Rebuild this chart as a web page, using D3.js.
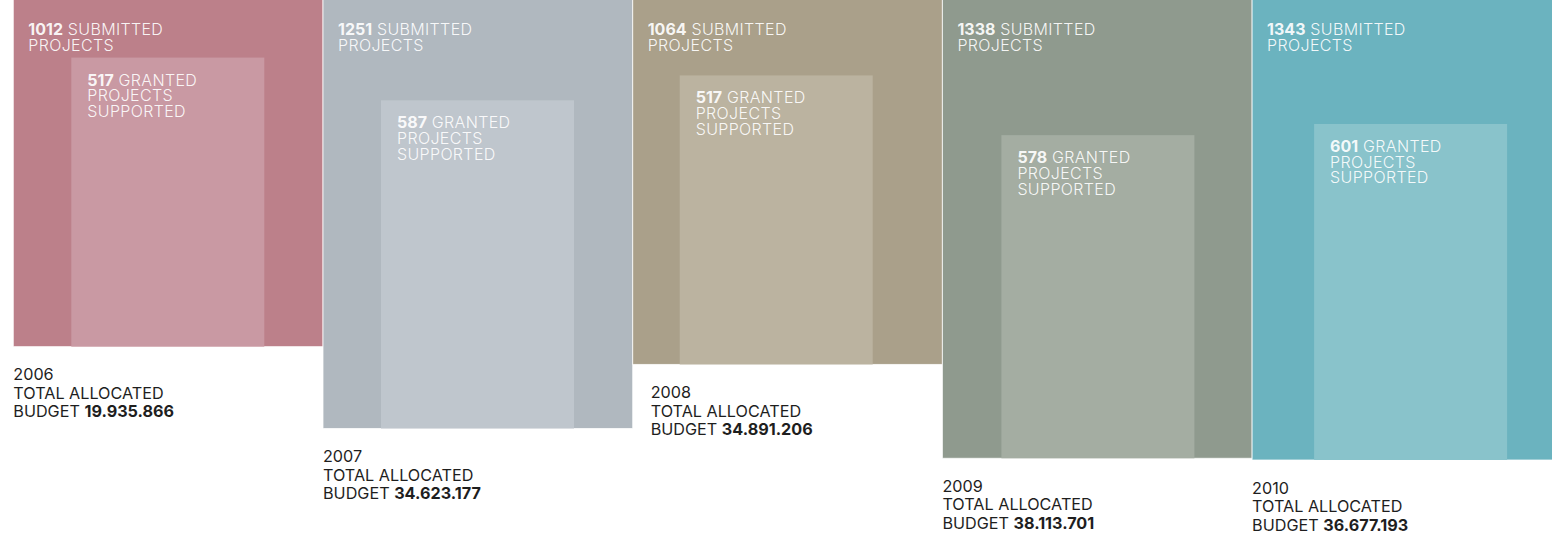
<!DOCTYPE html>
<html>
<head>
<meta charset="utf-8">
<script src="https://cdn.jsdelivr.net/npm/d3@7"></script>
<style>
  html, body { margin: 0; padding: 0; background: #fff; }
  svg { display: block; font-family: Inter, Roboto, "Noto Sans", sans-serif; }
</style>
</head>
<body>
<svg id="chart" width="1552" height="537"></svg>
<script>
// ---- data ----
const years = ["2006", "2007", "2008", "2009", "2010"];
const submitted = [1012, 1251, 1064, 1338, 1343];
const granted = [517, 587, 517, 578, 601];
const budgets = ["19.935.866", "34.623.177", "34.891.206", "38.113.701", "36.677.193"];

// ---- styling / layout (not data) ----
const outerColors = ["#bc808a", "#b0b8bf", "#aaa08a", "#8f9a8e", "#6bb3bf"];
const innerColors = ["#c999a3", "#bfc6cd", "#bbb3a0", "#a4ada2", "#89c3cb"];
const innerOffsets = [58, 58, 47, 59, 62];
const labelOffsets = [0, 0, 18, 0, 0];

const svg = d3.select("#chart");
const colStep = 309.7;
const x = d3.scaleBand().domain(years).range([13.3, 13.3 + colStep * years.length]).padding(0);
const hOuter = d3.scaleLinear().domain([0, 1343]).range([0, 460]);
const hInner = d3.scaleLinear().domain([0, 601]).range([0, 336]);
const innerW = 193;

const rows = years.map((y, i) => ({
  year: y, sub: submitted[i], gr: granted[i], budget: budgets[i],
  oc: outerColors[i], ic: innerColors[i], io: innerOffsets[i], lo: labelOffsets[i]
}));

const g = svg.selectAll("g.col").data(rows).join("g").attr("class", "col")
  .attr("transform", d => `translate(${x(d.year)},0)`);

g.append("rect")
  .attr("x", 0).attr("y", -2)
  .attr("width", x.bandwidth())
  .attr("height", d => hOuter(d.sub) + 2)
  .attr("fill", d => d.oc)
  .attr("stroke", "rgba(255,255,255,0.75)").attr("stroke-width", 1);

g.append("rect")
  .attr("x", d => d.io)
  .attr("y", d => hOuter(d.sub) - hInner(d.gr))
  .attr("width", innerW)
  .attr("height", d => hInner(d.gr))
  .attr("fill", d => d.ic);

// submitted text
const fs = 16, lh = 15.7;
const st = g.append("text")
  .attr("fill", "#fff").attr("fill-opacity", 0.92)
  .attr("font-size", fs).attr("font-weight", 300).attr("letter-spacing", 0.35);
st.append("tspan").attr("x", 15).attr("y", 35).attr("font-weight", 700).attr("letter-spacing", 0).text(d => d.sub);
st.append("tspan").text(" SUBMITTED");
st.append("tspan").attr("x", 15).attr("y", 35 + lh).text("PROJECTS");

// granted text
const gt = g.append("text")
  .attr("fill", "#fff").attr("fill-opacity", 0.92)
  .attr("font-size", fs).attr("font-weight", 300).attr("letter-spacing", 0.35);
const gy = d => hOuter(d.sub) - hInner(d.gr) + 28;
gt.append("tspan").attr("x", d => d.io + 16).attr("y", gy).attr("font-weight", 700).attr("letter-spacing", 0).text(d => d.gr);
gt.append("tspan").text(" GRANTED");
gt.append("tspan").attr("x", d => d.io + 16).attr("y", d => gy(d) + lh).text("PROJECTS");
gt.append("tspan").attr("x", d => d.io + 16).attr("y", d => gy(d) + 2 * lh).text("SUPPORTED");

// bottom labels
const bl = g.append("text")
  .attr("fill", "#1e1e1e").attr("font-size", 16.2).attr("font-weight", 400);
const by = d => hOuter(d.sub) + 33.5;
bl.append("tspan").attr("x", d => d.lo).attr("y", by).text(d => d.year);
bl.append("tspan").attr("x", d => d.lo).attr("y", d => by(d) + 18.6).text("TOTAL ALLOCATED");
bl.append("tspan").attr("x", d => d.lo).attr("y", d => by(d) + 37.2).text("BUDGET ");
bl.append("tspan").attr("font-weight", 700).text(d => d.budget);
</script>
</body>
</html>
